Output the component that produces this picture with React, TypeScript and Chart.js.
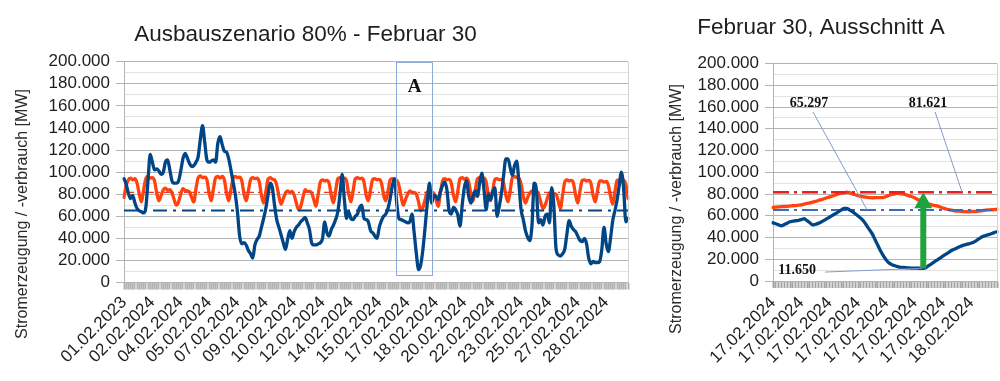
import React, { useEffect, useRef } from 'react';
import { Chart, registerables } from 'chart.js';

Chart.register(...registerables);

// ---------------- data: overview (3-hourly samples, February) ----------------
const MAIN_TICK_LABELS = [
  '01.02.2023', '02.02.2024', '04.02.2024', '05.02.2024', '07.02.2024', '09.02.2024',
  '10.02.2024', '12.02.2024', '14.02.2024', '15.02.2024', '17.02.2024', '18.02.2024',
  '20.02.2024', '22.02.2024', '23.02.2024', '25.02.2024', '27.02.2024', '28.02.2024',
];
const MAIN_LABEL_STEP = 13; // samples between two date labels

// Stromerzeugung [MW]
const MAIN_GENERATION = [
  94000, 89000, 81000, 76000, 79000, 72000, 67000, 65000, 64000, 63000,
  68000, 92000, 116000, 109000, 102000, 103000, 101000, 98000, 100000, 109000,
  111000, 102000, 92000, 90000, 90000, 92000, 101000, 112000, 117000, 113000,
  108000, 105000, 106000, 109000, 114000, 130000, 142000, 127000, 111000, 109000,
  110000, 111000, 109000, 126000, 132000, 125000, 119000, 118000, 112000, 102000,
  91000, 80000, 64000, 42000, 35000, 36000, 34000, 29000, 26000, 22000,
  34000, 39000, 42000, 50000, 58000, 67000, 79000, 90000, 86000, 70000,
  57000, 50000, 43000, 36000, 30000, 39000, 47000, 40000, 46000, 50000,
  52000, 55000, 57000, 59000, 54000, 48000, 36000, 34000, 34000, 35000,
  36000, 40000, 55000, 45000, 42000, 48000, 52000, 57000, 64000, 80000,
  98000, 75000, 58000, 64000, 58000, 57000, 60000, 62000, 68000, 70000,
  58000, 57000, 55000, 47000, 45000, 42000, 40000, 50000, 56000, 60000,
  62000, 67000, 76000, 88000, 94000, 72000, 58000, 57000, 56000, 55000,
  54000, 55000, 62000, 45000, 26000, 11650, 16000, 30000, 50000, 72000,
  90000, 72000, 79000, 78000, 75000, 82000, 88000, 91000, 84000, 65000,
  62000, 68000, 66000, 61000, 51000, 70000, 86000, 92000, 78000, 72000,
  78000, 83000, 78000, 90000, 99000, 84000, 66000, 80000, 75000, 82000,
  86000, 60000, 69000, 81000, 97000, 112000, 112000, 104000, 97000, 106000,
  110000, 90000, 66000, 57000, 47000, 41000, 38000, 52000, 90000, 84000,
  54000, 57000, 52000, 60000, 62000, 54000, 86000, 70000, 31000, 25000,
  24000, 26000, 30000, 44000, 56000, 51000, 48000, 46000, 42000, 38000,
  37000, 40000, 35000, 22000, 17000, 19000, 18000, 18000, 19000, 30000,
  50000, 35000, 28000, 40000, 56000, 65000, 75000, 88000, 100000, 85000,
  55000, 58000,
];

// Stromverbrauch [MW]
const MAIN_LOAD = [
  77000, 88000, 93000, 94500, 93000, 94000, 90000, 80000,
  73000, 84000, 94000, 96000, 94500, 95000, 92000, 81000,
  74000, 79000, 84000, 85500, 83500, 84000, 81000, 75000,
  70000, 73000, 80000, 85000, 83500, 83000, 82000, 77000,
  73000, 85000, 95000, 96500, 95000, 95500, 93000, 81000,
  74000, 85000, 95000, 96000, 94500, 96000, 93000, 81000,
  74000, 84000, 94000, 96000, 95000, 95500, 92000, 80000,
  74000, 83000, 93000, 95000, 94000, 94500, 91000, 79000,
  72000, 82000, 93500, 95000, 93500, 93000, 88000, 78000,
  71000, 76000, 81000, 83000, 81500, 82500, 79000, 72000,
  66000, 69000, 77000, 84000, 82500, 82500, 81000, 75000,
  69000, 80000, 91000, 93000, 92000, 92500, 90000, 79000,
  72000, 83000, 94000, 95000, 94000, 94500, 92000, 80000,
  73000, 83000, 94000, 95000, 94000, 94500, 91000, 79000,
  74000, 84000, 93500, 94000, 93000, 93500, 90000, 79000,
  74000, 83000, 93000, 94000, 93000, 92500, 88000, 78000,
  70000, 75000, 80000, 83000, 81500, 81500, 80000, 73000,
  65000, 68000, 75000, 82000, 81500, 81500, 81000, 75000,
  69000, 81000, 92000, 94000, 93000, 93500, 90000, 79000,
  73000, 83000, 94000, 95000, 93500, 94500, 91000, 80000,
  74000, 84000, 94000, 95000, 94000, 94500, 91000, 79000,
  74000, 83000, 93500, 94000, 93000, 93500, 90000, 79000,
  73000, 83000, 95000, 96000, 95000, 94500, 89000, 78000,
  72000, 77000, 81000, 83000, 81500, 82500, 80000, 73000,
  67000, 70000, 76000, 81000, 80500, 80500, 80000, 74000,
  67000, 79000, 91000, 93000, 92000, 92500, 90000, 79000,
  72000, 83000, 92500, 93000, 92000, 92500, 90000, 79000,
  73000, 83000, 92000, 92000, 91000, 91500, 88000, 78000,
  71000, 82000, 92500, 93000, 92000, 92500, 89000, 76000,
];

const REF_GENERATION = 65297; // Referenzwert Erzeugung [MW]
const REF_LOAD = 81621; // Referenzwert Verbrauch [MW]

// ---------------- data: Ausschnitt A ----------------
const ZOOM_TICK_LABELS = [
  '17.02.2024', '17.02.2024', '17.02.2024', '17.02.2024',
  '17.02.2024', '17.02.2024', '17.02.2024', '18.02.2024',
];
const ZOOM_LABEL_STEP = 10;

const ZOOM_GENERATION = [
  53500, 52600, 51600, 50800, 52000, 53200, 54500, 55000, 55400, 55800,
  56400, 57300, 55500, 53600, 51600, 52200, 53000, 54200, 55700, 57300,
  58800, 60400, 61900, 63500, 65100, 66700, 66800, 65300, 63900, 61800,
  59800, 57600, 55000, 51100, 47200, 43300, 38000, 32600, 27300, 22900,
  19000, 16400, 15000, 14000, 13200, 12600, 12400, 12200, 12000, 11900,
  11800, 11750, 11700, 11650, 12500, 14300, 16000, 17800, 19500, 21300,
  23000, 24700, 26400, 28000, 29300, 30600, 31800, 32800, 33500, 34200,
  34900, 36000, 37700, 39500, 41000, 41800, 42600, 43500, 44500, 45300,
];

const ZOOM_LOAD = [
  67700, 67900, 68100, 68300, 68500, 68700, 68900, 69200, 69400, 69700,
  70100, 70700, 71300, 71900, 72600, 73300, 74000, 74800, 75600, 76500,
  77300, 78200, 79100, 80000, 80700, 81200, 81621, 81300, 80100, 79300,
  78500, 77800, 77300, 77000, 76700, 76500, 76600, 76700, 76700, 76900,
  77800, 78800, 79700, 80200, 80500, 80400, 79900, 79200, 78300, 77400,
  76300, 75000, 73800, 72600, 71600, 70700, 70000, 69400, 68800, 68000,
  67100, 66200, 65600, 65100, 64600, 64300, 64100, 63900, 63700, 63700,
  63800, 63900, 64000, 64400, 64800, 65200, 65400, 65500, 65600, 65800,
];

// ---------------- styling ----------------
const FONT = '"Liberation Sans", Arial, sans-serif';
const SERIF = '"Liberation Serif", "Times New Roman", serif';
const TEXT = '#1e1e1e';
const MAJOR = '#b4b4b4';
const MINOR = '#e3e3e3';
const BLUE = '#004586';
const ORANGE = '#ff420e';
const Y_TITLE = 'Stromerzeugung / -verbrauch [MW]';

const fmt = (v: number) => String(Math.round(v)).replace(/\B(?=(\d{3})+(?!\d))/g, '.');

function categoryLabels(n: number, step: number, tickLabels: string[]) {
  return Array.from({ length: n }, (_, i) =>
    i % step === 0 && tickLabels[i / step] !== undefined ? tickLabels[i / step] : ''
  );
}

function yScale(axisWidth: number): any {
  return {
    type: 'linear',
    min: 0,
    max: 200000,
    afterFit: (s: any) => {
      s.width = axisWidth;
    },
    ticks: {
      stepSize: 10000,
      autoSkip: false,
      color: TEXT,
      font: { family: FONT, size: 17 },
      padding: 6,
      callback: (v: any) => (Number(v) % 20000 === 0 ? fmt(Number(v)) : ''),
    },
    grid: {
      color: (c: any) => (c.tick && c.tick.value % 20000 === 0 ? MAJOR : MINOR),
      tickColor: (c: any) => (c.tick && c.tick.value % 20000 === 0 ? MAJOR : 'rgba(0,0,0,0)'),
      tickLength: 8,
      lineWidth: 1,
    },
    border: { color: MAJOR, width: 1 },
  };
}

function xScale(axisHeight: number, labelPadding: number, tickColor: string, tickWidth: number): any {
  return {
    type: 'category',
    offset: false,
    afterFit: (s: any) => {
      s.height = axisHeight;
      s.paddingLeft = 0;
      s.paddingRight = 0;
    },
    ticks: {
      autoSkip: false,
      minRotation: 45,
      maxRotation: 45,
      color: TEXT,
      font: { family: FONT, size: 17 },
      padding: labelPadding,
    },
    grid: {
      drawOnChartArea: false,
      drawTicks: true,
      tickLength: 7,
      tickColor,
      tickWidth,
      offset: false,
    },
    border: { color: MAJOR, width: 1 },
  };
}

function drawTitles(ctx: any, title: string, tx: number, ty: number, ax: number, ay: number) {
  ctx.save();
  ctx.fillStyle = TEXT;
  ctx.font = `22.5px ${FONT}`;
  ctx.textAlign = 'center';
  ctx.textBaseline = 'alphabetic';
  ctx.fillText(title, tx, ty);
  ctx.translate(ax, ay);
  ctx.rotate(-Math.PI / 2);
  ctx.font = `16px ${FONT}`;
  ctx.fillStyle = '#2a2a2a';
  ctx.textBaseline = 'middle';
  ctx.fillText(Y_TITLE, 0, 0);
  ctx.restore();
}

function drawRightFrame(chart: any) {
  const { ctx, chartArea } = chart;
  ctx.save();
  ctx.strokeStyle = '#d2d2d2';
  ctx.lineWidth = 1;
  const xr = Math.round(chartArea.right) + 0.5;
  ctx.beginPath();
  ctx.moveTo(xr, chartArea.top);
  ctx.lineTo(xr, chartArea.bottom);
  ctx.stroke();
  ctx.restore();
}

// Box "A" marks the section shown on the right (sample indices / values)
const BOX_A = { from: 124.7, to: 141.2, top: 200000, bottom: 7000, labelY: 172500 };

const mainDecor = {
  id: 'mainDecor',
  afterDatasetsDraw(chart: any) {
    const { ctx, scales } = chart;
    const x = scales.x;
    const y = scales.y;
    drawRightFrame(chart);
    const bx0 = Math.round(x.getPixelForValue(BOX_A.from)) + 0.5;
    const bx1 = Math.round(x.getPixelForValue(BOX_A.to)) + 0.5;
    const by0 = Math.round(y.getPixelForValue(BOX_A.top)) + 0.5;
    const by1 = Math.round(y.getPixelForValue(BOX_A.bottom)) + 0.5;
    ctx.save();
    ctx.strokeStyle = '#8eaad6';
    ctx.lineWidth = 1;
    ctx.strokeRect(bx0, by0, bx1 - bx0, by1 - by0);
    ctx.fillStyle = '#111';
    ctx.font = `bold 19px ${SERIF}`;
    ctx.textAlign = 'center';
    ctx.textBaseline = 'alphabetic';
    ctx.fillText('A', (bx0 + bx1) / 2, y.getPixelForValue(BOX_A.labelY));
    ctx.restore();
  },
  afterDraw(chart: any) {
    drawTitles(chart.ctx, 'Ausbauszenario 80% - Februar 30', 305.5, 41, 23, 214);
  },
};

const zoomDecor = {
  id: 'zoomDecor',
  afterDatasetsDraw(chart: any) {
    const { ctx, scales } = chart;
    const x = scales.x;
    const y = scales.y;
    drawRightFrame(chart);

    const minVal = Math.min(...ZOOM_GENERATION);
    const minIdx = ZOOM_GENERATION.indexOf(minVal);
    const maxLoad = Math.max(...ZOOM_LOAD);

    // leader lines
    ctx.save();
    ctx.strokeStyle = '#7f9dca';
    ctx.lineWidth = 1;
    const seg = (x0: number, y0: number, x1: number, y1: number) => {
      ctx.beginPath();
      ctx.moveTo(x0, y0);
      ctx.lineTo(x1, y1);
      ctx.stroke();
    };
    const labelY = y.getPixelForValue(160000);
    const genLblX = x.getPixelForValue(12.7);
    const loadLblX = x.getPixelForValue(54.7);
    const minLblX = x.getPixelForValue(8.5);
    const minLblY = y.getPixelForValue(6400);
    seg(genLblX + 4, labelY + 5, x.getPixelForValue(33.2), y.getPixelForValue(REF_GENERATION));
    seg(loadLblX + 7, labelY + 5, x.getPixelForValue(66.7), y.getPixelForValue(REF_LOAD));
    seg(minLblX + 28, minLblY - 2, x.getPixelForValue(minIdx - 0.4), y.getPixelForValue(minVal));

    // labels
    ctx.fillStyle = '#111';
    ctx.font = `bold 14px ${SERIF}`;
    ctx.textAlign = 'center';
    ctx.textBaseline = 'alphabetic';
    ctx.fillText(fmt(REF_GENERATION), genLblX, labelY);
    ctx.fillText(fmt(maxLoad), loadLblX, labelY);
    ctx.fillText(fmt(minVal), minLblX, minLblY);

    // green arrow from minimum generation up to maximum load
    const ax = x.getPixelForValue(minIdx);
    const yBottom = y.getPixelForValue(minVal);
    const yTip = y.getPixelForValue(maxLoad);
    const headLen = 16;
    const headHalf = 9;
    const shaftHalf = 3;
    ctx.fillStyle = '#1fa33c';
    ctx.beginPath();
    ctx.moveTo(ax - shaftHalf, yBottom);
    ctx.lineTo(ax - shaftHalf, yTip + headLen);
    ctx.lineTo(ax - headHalf, yTip + headLen);
    ctx.lineTo(ax, yTip);
    ctx.lineTo(ax + headHalf, yTip + headLen);
    ctx.lineTo(ax + shaftHalf, yTip + headLen);
    ctx.lineTo(ax + shaftHalf, yBottom);
    ctx.closePath();
    ctx.fill();
    ctx.restore();
  },
  afterDraw(chart: any) {
    drawTitles(chart.ctx, 'Februar 30, Ausschnitt A', 181, 33.5, 37, 209);
  },
};

function lineDataset(label: string, data: number[], color: string, width: number, dash?: number[]): any {
  return {
    label,
    data,
    borderColor: color,
    backgroundColor: color,
    borderWidth: width,
    borderDash: dash || [],
    pointRadius: 0,
    fill: false,
    cubicInterpolationMode: dash ? 'default' : 'monotone',
    borderJoinStyle: 'round',
    borderCapStyle: dash ? 'butt' : 'round',
  };
}

export default function App() {
  const mainRef = useRef<HTMLCanvasElement | null>(null);
  const zoomRef = useRef<HTMLCanvasElement | null>(null);

  useEffect(() => {
    if (!mainRef.current || !zoomRef.current) return;
    const mainLabels = categoryLabels(MAIN_GENERATION.length, MAIN_LABEL_STEP, MAIN_TICK_LABELS);
    const zoomLabels = categoryLabels(ZOOM_GENERATION.length, ZOOM_LABEL_STEP, ZOOM_TICK_LABELS);

    const main = new Chart(mainRef.current, {
      type: 'line',
      data: {
        labels: mainLabels,
        datasets: [
          lineDataset('Stromerzeugung', MAIN_GENERATION, BLUE, 3.3),
          lineDataset('Referenz Erzeugung', mainLabels.map(() => REF_GENERATION), BLUE, 2, [14, 6, 3, 6]),
          lineDataset('Referenz Verbrauch', mainLabels.map(() => REF_LOAD), '#f23a1c', 1.4, [10, 4, 2, 4]),
          lineDataset('Stromverbrauch', MAIN_LOAD, ORANGE, 3.3),
        ],
      },
      options: {
        responsive: false,
        animation: false,
        devicePixelRatio: 1,
        layout: { padding: { top: 61.7, right: 12, left: 0, bottom: 0 } },
        plugins: { legend: { display: false }, tooltip: { enabled: false }, title: { display: false } },
        scales: { x: xScale(98.5, 3, '#b0b0b0', 2), y: yScale(124) },
      } as any,
      plugins: [mainDecor],
    });

    const zoom = new Chart(zoomRef.current, {
      type: 'line',
      data: {
        labels: zoomLabels,
        datasets: [
          lineDataset('Stromerzeugung', ZOOM_GENERATION, BLUE, 3.3),
          lineDataset('Referenz Erzeugung', zoomLabels.map(() => REF_GENERATION), '#3a6db5', 2, [16, 5, 3, 5]),
          lineDataset('Referenz Verbrauch', zoomLabels.map(() => REF_LOAD), '#ee1c1c', 2.5, [16, 5, 3, 5]),
          lineDataset('Stromverbrauch', ZOOM_LOAD, ORANGE, 3.3),
        ],
      },
      options: {
        responsive: false,
        animation: false,
        devicePixelRatio: 1,
        layout: { padding: { top: 63.5, right: 3, left: 0, bottom: 0 } },
        plugins: { legend: { display: false }, tooltip: { enabled: false }, title: { display: false } },
        scales: { x: xScale(100, 5, '#a4a4a4', 2), y: yScale(133) },
      } as any,
      plugins: [zoomDecor],
    });

    return () => {
      main.destroy();
      zoom.destroy();
    };
  }, []);

  return (
    <div
      style={{
        position: 'absolute',
        left: 0,
        top: 0,
        width: 1000,
        height: 381,
        background: '#ffffff',
        overflow: 'hidden',
      }}
    >
      <canvas ref={mainRef} width={640} height={381} style={{ position: 'absolute', left: 0, top: 0 }} />
      <canvas ref={zoomRef} width={360} height={381} style={{ position: 'absolute', left: 640, top: 0 }} />
    </div>
  );
}
